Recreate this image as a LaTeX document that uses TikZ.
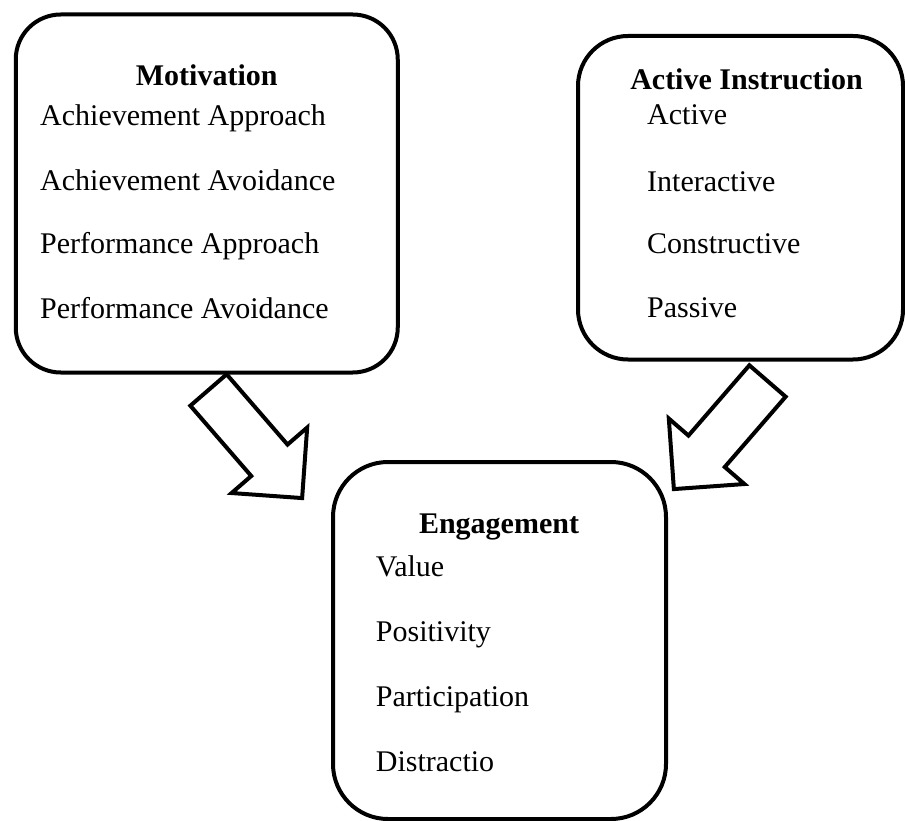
\documentclass[tikz,border=0pt]{standalone}
\usepackage{fontspec}
\setmainfont{Liberation Serif}
\begin{document}
\fontsize{30}{36}\selectfont
\begin{tikzpicture}[x=1pt,y=1pt,
  box/.style={draw, line width=4pt, rounded corners=#1, inner sep=0pt},
  box/.default=50pt,
  title/.style={font=\bfseries, anchor=base, inner sep=0pt},
  item/.style={anchor=base west, inner sep=0pt},
  blockarrow/.style={draw, line width=4pt, line join=miter, fill=white}]
\useasboundingbox (0,0) rectangle (905,-821);
% boxes
\node[box=45pt, minimum width=382pt, minimum height=358pt] (mot) at (206.75,-193.5) {};
\node[box=50pt, minimum width=325pt, minimum height=323.5pt] (act) at (740.5,-197.75) {};
\node[box=55pt, minimum width=333pt, minimum height=357pt] (eng) at (499.5,-640.5) {};
% block arrows
\coordinate (a1) at (208.5,-390);
\coordinate (a2) at (767.5,-381);
\draw[blockarrow, shift={(a1)}, rotate=-49.1]
  (0,24) -- (93,24) -- (93,50) -- (143,0) -- (93,-50) -- (93,-24) -- (0,-24) -- cycle;
\draw[blockarrow, shift={(a2)}, rotate=-130.9]
  (0,24) -- (93,24) -- (93,50) -- (143,0) -- (93,-50) -- (93,-24) -- (0,-24) -- cycle;
% Motivation
\node[title] (motT) at (206.7,-86) {Motivation};
\node[item] (m1) at (40,-126) {Achievement Approach};
\node[item] (m2) at (40,-190.5) {Achievement Avoidance};
\node[item] (m3) at (40,-254) {Performance Approach};
\node[item] (m4) at (40,-318) {Performance Avoidance};
% Active Instruction
\node[title] (actT) at (746.5,-90) {Active Instruction};
\node[item] (i1) at (647,-125) {Active};
\node[item] (i2) at (647,-191.5) {Interactive};
\node[item] (i3) at (647,-253.5) {Constructive};
\node[item] (i4) at (647,-317.5) {Passive};
% Engagement
\node[title] (engT) at (499,-533) {Engagement};
\node[item] (e1) at (375.7,-576.7) {Value};
\node[item] (e2) at (375.7,-641.7) {Positivity};
\node[item] (e3) at (375.7,-706.7) {Participation};
\node[item] (e4) at (375.7,-771.7) {Distractio};
\end{tikzpicture}
\end{document}
